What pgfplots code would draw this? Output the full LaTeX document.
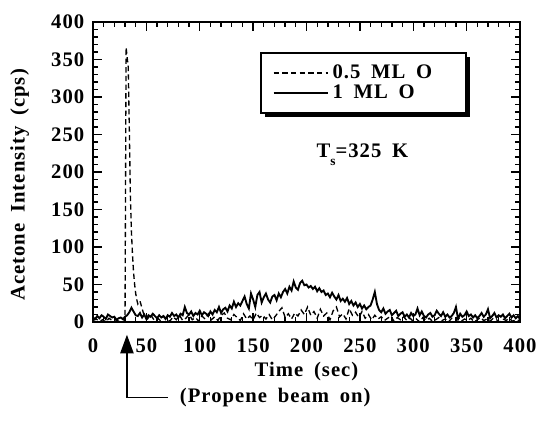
\documentclass[border=0pt]{standalone}
\usepackage{fontspec}
\setmainfont{Liberation Serif}[LetterSpace=5]
\usepackage{pgfplots}
\pgfplotsset{compat=1.18}
\usetikzlibrary{arrows.meta}
\pgfplotstableread{
t v
0 6
2 4
4 8
6 5
8 9
10 7
12 4
14 10
16 8
18 6
20 7
22 3
24 5
26 6
28 4
30 7
32 9
34 13
36 19
38 14
40 9
42 8
44 12
46 6
48 10
50 4
52 9
54 7
56 11
58 8
60 5
62 9
64 6
66 8
68 4
70 9
72 7
74 12
76 8
78 10
80 6
82 11
84 9
86 20
88 12
90 10
92 14
94 8
96 12
98 10
100 15
102 9
104 13
106 11
108 8
110 14
112 10
114 16
116 13
118 20
120 12
122 17
124 19
126 14
128 22
130 18
132 27
134 20
136 25
138 22
140 28
142 34
144 24
146 18
148 38
150 30
152 20
154 36
156 40
158 26
160 33
162 38
164 30
166 26
168 34
170 36
172 29
174 38
176 33
178 40
180 44
182 38
184 47
186 42
188 54
190 46
192 43
194 52
196 55
198 49
200 50
202 46
204 48
206 44
208 47
210 41
212 45
214 40
216 42
218 36
220 38
222 33
224 39
226 34
228 30
230 36
232 28
234 31
236 27
238 32
240 24
242 28
244 22
246 26
248 20
250 24
252 18
254 22
256 17
258 20
260 22
262 30
264 40
266 24
268 16
270 13
272 18
274 11
276 14
278 16
280 9
282 12
284 15
286 8
288 11
290 13
292 7
294 10
296 6
298 12
300 8
302 10
304 18
306 9
308 14
310 8
312 6
314 10
316 12
318 7
320 9
322 15
324 11
326 8
328 13
330 7
332 10
334 6
336 8
338 12
340 20
342 4
344 11
346 7
348 9
350 14
352 8
354 10
356 6
358 9
360 5
362 8
364 12
366 7
368 10
370 17
372 5
374 8
376 12
378 6
380 9
382 7
384 10
386 5
388 8
390 11
392 6
394 9
396 5
398 8
400 4
}\solid
\pgfplotstableread{
t v
0 2
3 4
6 1
9 3
12 0
15 5
18 2
21 3
24 1
27 4
30 2
31 366
33 340
34 260
35 170
36 120
37 90
38 66
39 50
40 38
41 30
42 24
44 28
46 18
48 8
51 4
54 10
57 3
60 6
63 2
66 8
69 4
72 1
75 7
78 3
81 9
84 2
87 5
90 10
93 3
96 6
99 1
102 8
105 4
108 11
111 3
114 7
117 2
120 9
123 12
126 5
129 3
132 10
135 6
138 2
141 11
144 4
147 8
150 3
153 12
156 6
159 9
162 4
165 10
168 3
171 8
174 14
177 19
180 6
183 11
186 4
189 12
192 8
195 16
198 10
201 20
204 9
207 14
210 5
213 17
216 8
219 12
222 3
225 15
228 20
231 7
234 11
237 4
240 18
243 9
246 13
249 6
252 14
255 5
258 10
261 3
264 9
267 4
270 7
273 2
276 5
279 8
282 1
285 6
288 3
291 7
294 2
297 5
300 1
303 4
306 0
309 6
312 2
315 5
318 1
321 3
324 6
327 2
330 4
333 0
336 5
339 3
342 6
345 1
348 4
351 2
354 5
357 0
360 3
363 6
366 2
369 4
372 1
375 5
378 3
381 0
384 4
387 2
390 5
393 1
396 3
400 2
}\dashed
\newcommand{\gap}{\hspace{8pt}}
\begin{document}
\begin{tikzpicture}
\path[use as bounding box] (-69.75pt,-74.25pt) rectangle (333.75pt,241.5pt);
\begin{axis}[at={(0,0)}, anchor=south west, scale only axis,
  width=320.25pt, height=225pt,
  xmin=0, xmax=400, ymin=0, ymax=400,
  xtick={0,50,...,400}, ytick={0,50,...,400},
  minor x tick num=4, minor y tick num=4,
  tick align=inside, major tick length=7pt, minor tick length=3.5pt,
  axis line style={line width=1.5pt},
  every tick/.style={line width=1pt, black},
  /pgf/number format/assume math mode=true,
  tick label style={font=\fontsize{15.5}{18}\selectfont\bfseries},
  xticklabel style={yshift=-9pt},
  yticklabel style={xshift=-3pt},
  xlabel={Time\gap(sec)}, ylabel={Acetone\gap Intensity\gap(cps)},
  label style={font=\fontsize{15.5}{18}\selectfont\bfseries},
  xlabel style={at={(axis description cs:0.5,0)}, anchor=center, yshift=-37pt},
  ylabel style={at={(axis description cs:0,0.457)}, anchor=center, yshift=55pt},
  clip=false,
  legend style={at={(axis description cs:0.393,0.897)}, anchor=north west,
    draw=none, fill=none, inner xsep=9pt, inner ysep=9pt,
    font=\fontsize{15.5}{18}\selectfont\bfseries,
    nodes={inner sep=0pt, text height=10pt, text depth=2pt},
    row sep=3pt},
  legend cell align=left,
  legend image code/.code={\draw[#1, line width=1pt] (0pt,0pt) -- (41pt,0pt);},
]
\fill[black, shift={(3pt,-3pt)}] (axis description cs:0.393,0.697) rectangle (axis description cs:0.873,0.897);
\draw[fill=white, line width=1.2pt] (axis description cs:0.393,0.697) rectangle (axis description cs:0.873,0.897);
\addplot[black, line width=1pt, dash pattern=on 4pt off 2.5pt] table[x=t,y=v] {\dashed};
\addlegendentry{\,0.5\gap ML\gap O}
\addplot[black, line width=1.4pt] table[x=t,y=v] {\solid};
\addlegendentry{\,1\gap ML\gap O}
\node[font=\fontsize{15.5}{18}\selectfont\bfseries, anchor=west] at (axis cs:205,223) {T\raisebox{-6pt}{\fontsize{10}{10}\selectfont s}=325\gap K};
\draw[line width=1.1pt, -{Triangle[length=14pt, width=10pt]}] (axis cs:70,-101) -- (axis cs:31.8,-101) -- (axis cs:31.8,-17);
\node[font=\fontsize{15.5}{18}\selectfont\bfseries, anchor=west] at (axis cs:77,-101) {(Propene\gap beam\gap on)};
\end{axis}
\end{tikzpicture}
\end{document}
